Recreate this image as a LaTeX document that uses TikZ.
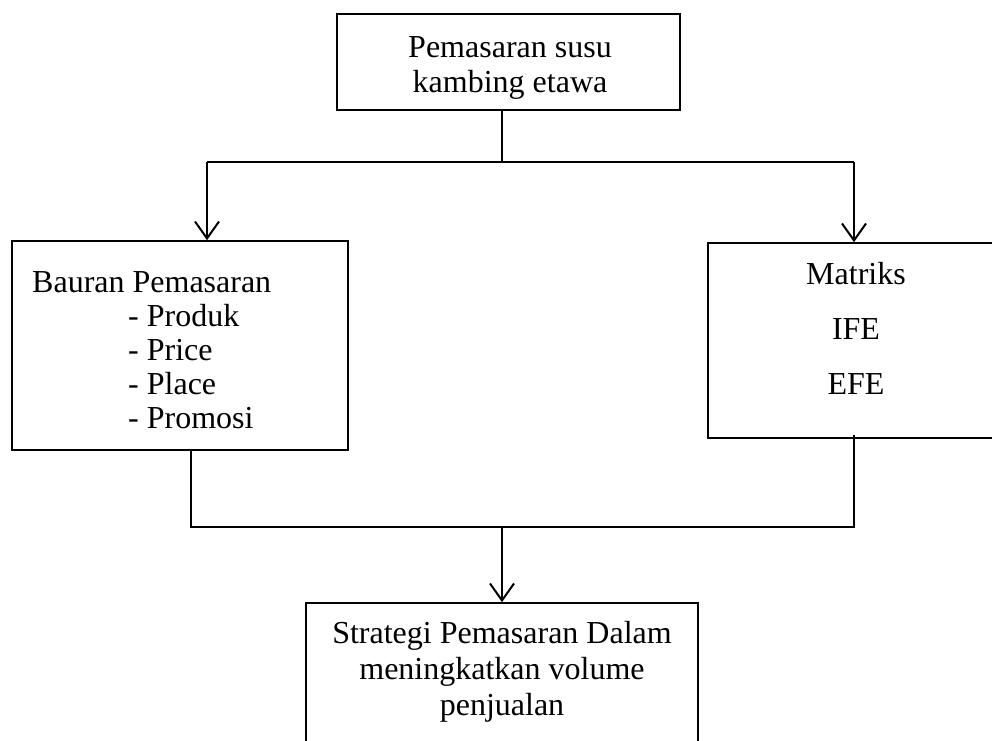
\documentclass[tikz,border=0pt]{standalone}
\usepackage{fontspec}
\setmainfont{Liberation Serif}
\usetikzlibrary{arrows.meta}
\begin{document}
\begin{tikzpicture}[x=1pt,y=-1pt,
  box/.style={draw=black,line width=1.6pt,rectangle,inner sep=0pt},
  txt/.style={inner sep=0pt,font=\fontsize{32}{35}\selectfont},
  conn/.style={line width=2pt},
  arr/.style={line width=2pt,-{Straight Barb[length=17pt,width=24pt,line width=2pt]}}]
\useasboundingbox (0,0) rectangle (992,740);
% boxes
\node[box,minimum width=343pt,minimum height=96pt] (top) at (508.5,62) {};
\node[box,minimum width=336pt,minimum height=209pt] (left) at (180,345.5) {};
\node[box,minimum width=296pt,minimum height=195pt] (right) at (856,340.5) {};
\node[box,minimum width=392pt,minimum height=170pt] (bottom) at (502,688) {};
% texts
\node[txt,anchor=base] (t1) at (510,57) {Pemasaran susu};
\node[txt,anchor=base] (t2) at (510,92) {kambing etawa};
\node[txt,anchor=base west] (l1) at (32,292) {Bauran Pemasaran};
\node[txt,anchor=base west] (l2) at (128,326) {- Produk};
\node[txt,anchor=base west] (l3) at (128,360) {- Price};
\node[txt,anchor=base west] (l4) at (128,394) {- Place};
\node[txt,anchor=base west] (l5) at (128,428) {- Promosi};
\node[txt,anchor=base] (r1) at (856,284) {Matriks};
\node[txt,anchor=base] (r2) at (856,339) {IFE};
\node[txt,anchor=base] (r3) at (856,394) {EFE};
\node[txt,anchor=base] (b1) at (502,643) {Strategi Pemasaran Dalam};
\node[txt,anchor=base] (b2) at (502,679) {meningkatkan volume};
\node[txt,anchor=base] (b3) at (502,715) {penjualan};
% junction coordinates
\coordinate (j1) at (502,162);
\coordinate (jl) at (207,162);
\coordinate (jr) at (854,162);
\coordinate (k1) at (502,527);
\coordinate (kl) at (191,527);
\coordinate (kr) at (854,527);
% connectors
\draw[conn] (top.south -| j1) -- (j1);
\draw[conn] (jl) -- (jr);
\draw[arr] (jl) -- (left.north -| jl);
\draw[arr] (jr) -- (right.north -| jr);
\draw[conn] (left.south -| kl) -- (kl) -- (kr) -- ([yshift=4pt]right.south -| kr);
\draw[arr] (k1) -- (bottom.north -| k1);
\end{tikzpicture}
\end{document}
